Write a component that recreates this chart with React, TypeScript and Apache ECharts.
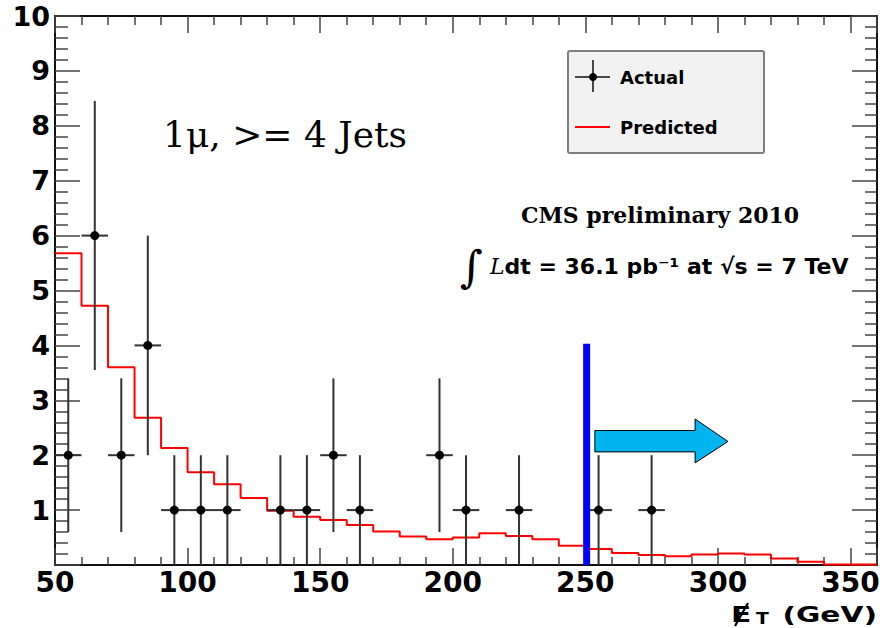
import React, { useEffect, useRef } from "react";
import * as echarts from "echarts";

// Predicted histogram: left bin edges (GeV) and contents
const binEdges = [50, 60, 70, 80, 90, 100, 110, 120, 130, 140, 150, 160, 170, 180, 190, 200, 210, 220, 230, 240, 250, 260, 270, 280, 290, 300, 310, 320, 330, 340, 350];
const predicted = [5.68, 4.72, 3.6, 2.68, 2.13, 1.69, 1.47, 1.22, 0.99, 0.88, 0.82, 0.73, 0.61, 0.52, 0.47, 0.5, 0.58, 0.53, 0.47, 0.35, 0.29, 0.22, 0.18, 0.16, 0.19, 0.21, 0.19, 0.12, 0.06, 0.01, 0.01];
const xMax = 360;

// Actual data points (bin centres), values and error-bar ends
const actualX = [55, 65, 75, 85, 95, 105, 115, 135, 145, 155, 165, 195, 205, 225, 255, 275];
const actualY = [2, 6, 2, 4, 1, 1, 1, 1, 1, 2, 1, 2, 1, 1, 1, 1];
const errLow = [0.6, 3.55, 0.6, 2, 0, 0, 0, 0, 0, 0.6, 0, 0.6, 0, 0, 0, 0];
const errHigh = [3.4, 8.45, 3.4, 6, 2, 2, 2, 2, 2, 3.4, 2, 3.4, 2, 2, 2, 2];
const binHalfWidth = 5;

// Cut line and arrow (data coordinates)
const cutX = 250.5;
const cutTop = 4.03;
const arrowX = [253.6, 291.4, 291.4, 303.8, 291.4, 291.4, 253.6];
const arrowY = [2.45, 2.45, 2.66, 2.25, 1.86, 2.06, 2.06];

// Tick labels
const yTickLabels = ["", "1", "2", "3", "4", "5", "6", "7", "8", "9", "10"];

export default function App() {
  const ref = useRef<HTMLDivElement>(null);

  useEffect(() => {
    if (!ref.current) return;
    const chart = echarts.init(ref.current, undefined, { renderer: "svg" });

    const stepData = binEdges.map((x, i) => [x, predicted[i]]);
    stepData.push([xMax, predicted[predicted.length - 1]]);

    const errData = actualX.map((x, i) => [x, actualY[i], errLow[i], errHigh[i]]);

    const tickStyle = { color: "#444", width: 1.5 };
    const axisLineStyle = { color: "#111", width: 2 };
    const labelFont = {
      fontFamily: "DejaVu Sans",
      fontWeight: "bold" as const,
      fontSize: 28,
      color: "#000",
    };

    const option: any = {
      animation: false,
      backgroundColor: "#ffffff",
      grid: { left: 55, right: 3, top: 16, bottom: 63, outerBoundsMode: "none" },
      xAxis: [
        {
          type: "value",
          min: 50,
          max: xMax,
          interval: 50,
          position: "bottom",
          axisLine: { onZero: false, lineStyle: axisLineStyle },
          axisTick: { inside: true, length: 17, lineStyle: tickStyle },
          minorTick: { show: true, splitNumber: 5, length: 8, lineStyle: tickStyle },
          axisLabel: { ...labelFont, margin: 3, showMaxLabel: false, showMinLabel: true },
          splitLine: { show: false },
          minorSplitLine: { show: false },
        },
        {
          type: "value",
          min: 50,
          max: xMax,
          interval: 50,
          position: "top",
          axisLine: { onZero: false, lineStyle: axisLineStyle },
          axisTick: { inside: true, length: 17, lineStyle: tickStyle },
          minorTick: { show: true, splitNumber: 5, length: 9, lineStyle: tickStyle },
          axisLabel: { show: false },
          splitLine: { show: false },
        },
      ],
      yAxis: [
        {
          type: "value",
          min: 0,
          max: 10,
          interval: 1,
          position: "left",
          axisLine: { show: true, onZero: false, lineStyle: axisLineStyle },
          axisTick: { show: true, inside: true, length: 25, lineStyle: tickStyle },
          minorTick: { show: true, splitNumber: 5, length: 13, lineStyle: tickStyle },
          axisLabel: {
            ...labelFont,
            fontSize: 27,
            margin: 5,
            formatter: (v: number) => yTickLabels[Math.round(v)] ?? "",
          },
          splitLine: { show: false },
        },
        {
          type: "value",
          min: 0,
          max: 10,
          interval: 1,
          position: "right",
          axisLine: { show: true, onZero: false, lineStyle: axisLineStyle },
          axisTick: { show: true, inside: true, length: 25, lineStyle: tickStyle },
          minorTick: { show: true, splitNumber: 5, length: 12, lineStyle: tickStyle },
          axisLabel: { show: false },
          splitLine: { show: false },
        },
      ],
      series: [
        {
          name: "Predicted",
          type: "line",
          step: "end",
          data: stepData,
          showSymbol: false,
          symbol: "none",
          lineStyle: { color: "#ff0000", width: 2 },
          z: 3,
        },
        {
          name: "Actual",
          type: "custom",
          data: errData,
          z: 4,
          renderItem: (params: any, api: any) => {
            const x = api.value(0);
            const y = api.value(1);
            const lo = api.value(2);
            const hi = api.value(3);
            const pLo = api.coord([x, lo]);
            const pHi = api.coord([x, hi]);
            const pL = api.coord([x - binHalfWidth, y]);
            const pR = api.coord([x + binHalfWidth, y]);
            const pC = api.coord([x, y]);
            const st = { stroke: "#333", lineWidth: 2 };
            return {
              type: "group",
              children: [
                { type: "line", shape: { x1: pLo[0], y1: pLo[1], x2: pHi[0], y2: pHi[1] }, style: st },
                { type: "line", shape: { x1: pL[0], y1: pL[1], x2: pR[0], y2: pR[1] }, style: st },
                { type: "circle", shape: { cx: pC[0], cy: pC[1], r: 4.5 }, style: { fill: "#000" } },
              ],
            };
          },
        },
        {
          name: "cut",
          type: "line",
          data: [
            [cutX, 0],
            [cutX, cutTop],
          ],
          showSymbol: false,
          symbol: "none",
          lineStyle: { color: "#0000ff", width: 7, cap: "butt" },
          z: 5,
          clip: false,
        },
        {
          name: "arrow",
          type: "custom",
          data: [[0]],
          z: 6,
          renderItem: (params: any, api: any) => {
            const pts = arrowX.map((ax, i) => api.coord([ax, arrowY[i]]));
            return {
              type: "polygon",
              shape: { points: pts },
              style: { fill: "#00b4f0", stroke: "#000", lineWidth: 1 },
            };
          },
        },
      ],
      graphic: [
        {
          type: "text",
          x: 163,
          y: 134,
          style: {
            text: "1μ, >= 4 Jets",
            font: "36px 'DejaVu Serif'",
            fill: "#000",
            verticalAlign: "middle",
            align: "left",
          },
        },
        {
          type: "group",
          children: [
            {
              type: "rect",
              shape: { x: 568, y: 51, width: 196, height: 102, r: 2 },
              style: { fill: "#f2f2f2", stroke: "#7f7f7f", lineWidth: 2 },
            },
            { type: "line", shape: { x1: 593, y1: 60, x2: 593, y2: 92 }, style: { stroke: "#111", lineWidth: 1.5 } },
            { type: "line", shape: { x1: 575, y1: 77, x2: 610, y2: 77 }, style: { stroke: "#111", lineWidth: 1.5 } },
            { type: "circle", shape: { cx: 593, cy: 77, r: 4 }, style: { fill: "#000" } },
            {
              type: "text",
              x: 620,
              y: 77,
              style: { text: "Actual", font: "bold 18px 'DejaVu Sans'", fill: "#000", verticalAlign: "middle" },
            },
            { type: "line", shape: { x1: 575, y1: 127, x2: 610, y2: 127 }, style: { stroke: "#ff0000", lineWidth: 2 } },
            {
              type: "text",
              x: 620,
              y: 127,
              style: { text: "Predicted", font: "bold 18px 'DejaVu Sans'", fill: "#000", verticalAlign: "middle" },
            },
          ],
        },
        {
          type: "text",
          x: 660,
          y: 215,
          style: {
            text: "CMS preliminary 2010",
            font: "bold 22px 'DejaVu Serif'",
            fill: "#000",
            align: "center",
            verticalAlign: "middle",
          },
        },
        {
          type: "text",
          x: 460,
          y: 266,
          style: {
            text: "{int|∫}{l| L}{b|dt = 36.1 pb⁻¹ at √s = 7 TeV}",
            verticalAlign: "middle",
            align: "left",
            fill: "#000",
            rich: {
              int: { fontFamily: "DejaVu Serif", fontSize: 44, fill: "#000" },
              l: { fontFamily: "DejaVu Serif", fontStyle: "italic", fontSize: 22, fill: "#000" },
              b: { fontFamily: "DejaVu Sans", fontWeight: "bold", fontSize: 22, fill: "#000" },
            },
          },
        },
        // x-axis title: E-slash, subscript T, (GeV)
        {
          type: "group",
          children: [
            {
              type: "text",
              x: 731,
              y: 614,
              scaleX: 1.35,
              style: { text: "E", font: "bold 22px 'DejaVu Sans'", fill: "#000", verticalAlign: "middle", align: "left" },
            },
            {
              type: "line",
              shape: { x1: 735, y1: 626, x2: 748, y2: 603 },
              style: { stroke: "#000", lineWidth: 2.2 },
            },
            {
              type: "text",
              x: 756,
              y: 619,
              scaleX: 1.25,
              style: { text: "T", font: "bold 15px 'DejaVu Sans'", fill: "#000", verticalAlign: "middle", align: "left" },
            },
            {
              type: "text",
              x: 877,
              y: 614,
              scaleX: 1.35,
              style: { text: "(GeV)", font: "bold 22px 'DejaVu Sans'", fill: "#000", verticalAlign: "middle", align: "right" },
            },
          ],
        },
      ],
    };

    chart.setOption(option);
    return () => chart.dispose();
  }, []);

  return (
    <div
      ref={ref}
      style={{ position: "absolute", left: 0, top: 0, width: 880, height: 628 }}
    />
  );
}
